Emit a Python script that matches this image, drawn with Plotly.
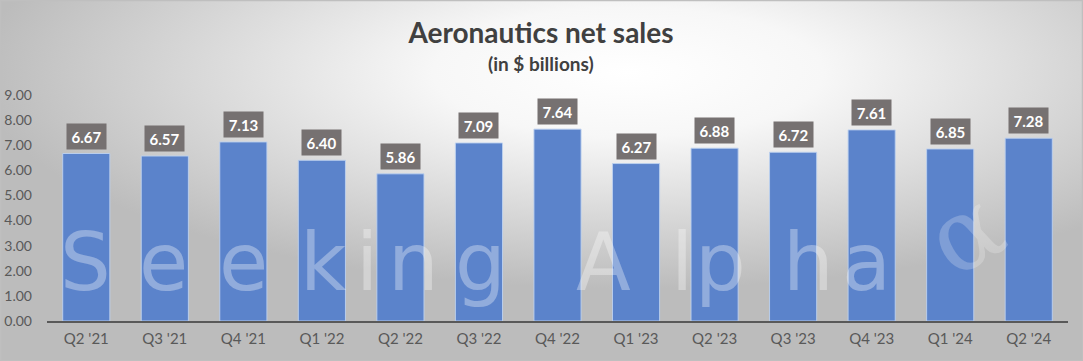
import base64
import plotly.graph_objects as go

quarters = ["Q2 '21", "Q3 '21", "Q4 '21", "Q1 '22", "Q2 '22", "Q3 '22", "Q4 '22",
            "Q1 '23", "Q2 '23", "Q3 '23", "Q4 '23", "Q1 '24", "Q2 '24"]
net_sales = [6.67, 6.57, 7.13, 6.40, 5.86, 7.09, 7.64, 6.27, 6.88, 6.72, 7.61, 6.85, 7.28]
y_ticks = [0, 1, 2, 3, 4, 5, 6, 7, 8, 9]

W, H = 1083, 361
ML, MR, MT, MB = 47, 15, 95, 40
PW, PH = W - ML - MR, H - MT - MB

FONT = "Lato, 'Open Sans', sans-serif"

svg = f"""<svg xmlns='http://www.w3.org/2000/svg' width='{W}' height='{H}' viewBox='0 0 {W} {H}' preserveAspectRatio='none'>
<defs><radialGradient id='g' cx='0.58' cy='0.2' r='0.6' gradientUnits='objectBoundingBox'>
<stop offset='0' stop-color='#ffffff'/><stop offset='0.3' stop-color='#f7f7f7'/><stop offset='1' stop-color='#bcbcbc'/></radialGradient></defs>
<rect width='{W}' height='{H}' fill='url(#g)'/>
<rect x='0.5' y='0.5' width='{W-1}' height='{H-1}' fill='none' stroke='#bfbfbf' stroke-width='1.5'/>
</svg>"""
src = "data:image/svg+xml;base64," + base64.b64encode(svg.encode()).decode()

fig = go.Figure()
fig.add_trace(go.Bar(
    x=quarters, y=net_sales,
    marker=dict(color="#5B83CB", line=dict(color="rgba(190,210,240,0.9)", width=1)),
    width=0.6, hoverinfo="x+y",
))

annotations = []
for q, v in zip(quarters, net_sales):
    annotations.append(dict(
        x=q, y=v, xref="x", yref="y", text=f"<b>{v:.2f}</b>",
        showarrow=False, yanchor="bottom", yshift=4,
        bgcolor="#767171", width=37, height=23,
        font=dict(family=FONT, size=15, color="white"),
    ))

# watermark letters
wm_letters = list("SeekingAlpha")
wm_centers = [85, 163, 243, 323, 367, 413, 480, 603, 682, 720, 808, 866]
for ch, cx in zip(wm_letters, wm_centers):
    annotations.append(dict(
        x=(cx - ML) / PW, y=(H - MB - 262) / PH, xref="paper", yref="paper",
        text=ch, showarrow=False, xanchor="center", yanchor="middle",
        font=dict(family="'DejaVu Sans', sans-serif", size=80, color="rgba(255,255,255,0.33)"),
    ))
annotations.append(dict(
    x=(965 - ML) / PW, y=(H - MB - 232) / PH, xref="paper", yref="paper",
    text="α", showarrow=False, xanchor="center", yanchor="middle", textangle=-30,
    font=dict(family="'DejaVu Serif', serif", size=100, color="rgba(255,255,255,0.22)"),
))

annotations.append(dict(
    x=(541 - ML) / PW, y=(H - MB - 64) / PH, xref="paper", yref="paper",
    text="<b>(in $ billions)</b>", showarrow=False, xanchor="center", yanchor="middle",
    font=dict(family=FONT, size=19, color="#404040"),
))

fig.update_layout(
    width=W, height=H,
    margin=dict(l=ML, r=MR, t=MT, b=MB, pad=0, autoexpand=False),
    paper_bgcolor="rgba(0,0,0,0)", plot_bgcolor="rgba(0,0,0,0)",
    title=dict(text="<b>Aeronautics net sales</b>", x=541 / W, xanchor="center",
               y=1 - 33 / H, yanchor="middle",
               font=dict(family=FONT, size=28, color="#404040")),
    showlegend=False,
    bargap=0.4,
    annotations=annotations,
    images=[dict(source=src, xref="paper", yref="paper",
                 x=-ML / PW, y=(H - MB) / PH, sizex=W / PW, sizey=H / PH,
                 xanchor="left", yanchor="top", sizing="stretch", layer="below")],
    xaxis=dict(showline=True, linecolor="#595959", linewidth=2, showgrid=False, zeroline=False,
               ticks="", tickfont=dict(family=FONT, size=15, color="#595959"),
               ticklabelstandoff=3, fixedrange=True, automargin=False),
    yaxis=dict(range=[0, 9], tickvals=y_ticks, ticktext=[f"{t:.2f}" for t in y_ticks],
               showgrid=False, zeroline=False, showline=False, ticks="",
               tickfont=dict(family=FONT, size=14, color="#595959"),
               ticklabelstandoff=14, fixedrange=True, automargin=False),
)

fig.write_html("out.html", config={"displayModeBar": False})
